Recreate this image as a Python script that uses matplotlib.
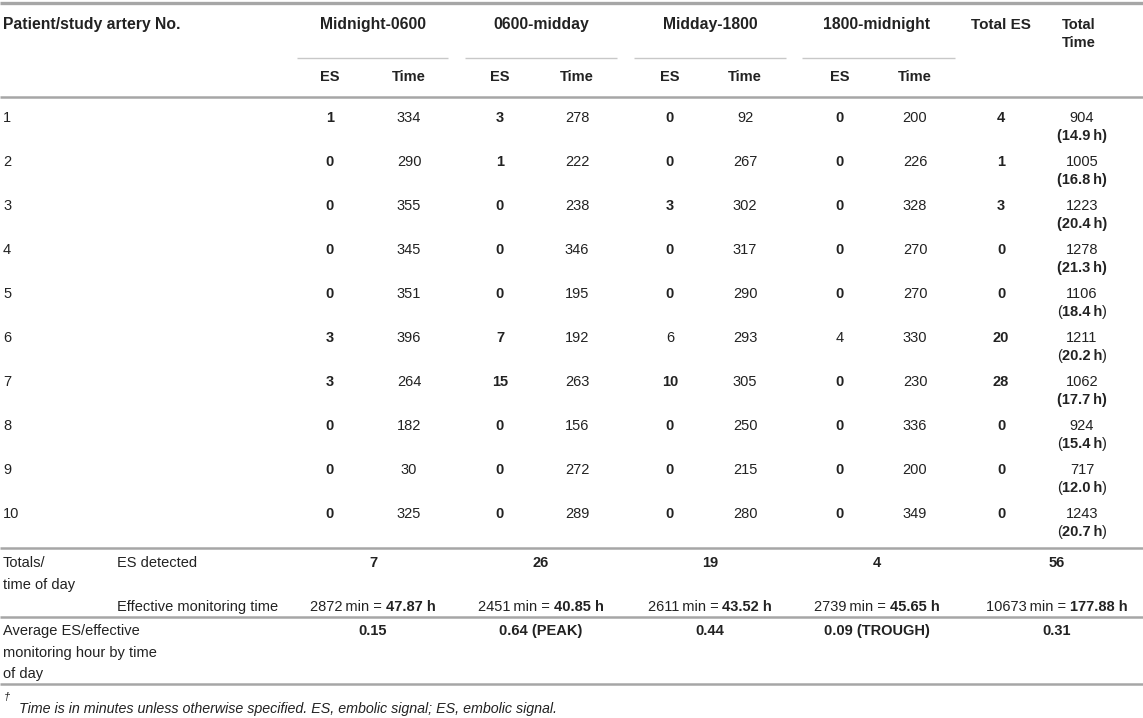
import numpy as np
import matplotlib
matplotlib.use('Agg')
import matplotlib.pyplot as plt

plt.rcParams['font.family'] = ['Liberation Sans', 'DejaVu Sans']

# table data
patients = [str(i) for i in range(1, 11)]
periods = ['Midnight-0600', '0600-midday', 'Midday-1800', '1800-midnight']
es_mid = [1, 0, 0, 0, 0, 3, 3, 0, 0, 0]
time_mid = [334, 290, 355, 345, 351, 396, 264, 182, 30, 325]
es_morn = [3, 1, 0, 0, 0, 7, 15, 0, 0, 0]
time_morn = [278, 222, 238, 346, 195, 192, 263, 156, 272, 289]
es_aft = [0, 0, 3, 0, 0, 6, 10, 0, 0, 0]
time_aft = [92, 267, 302, 317, 290, 293, 305, 250, 215, 280]
es_eve = [0, 0, 0, 0, 0, 4, 0, 0, 0, 0]
time_eve = [200, 226, 328, 270, 270, 330, 230, 336, 200, 349]
total_es = [4, 1, 3, 0, 0, 20, 28, 0, 0, 0]
total_time = [904, 1005, 1223, 1278, 1106, 1211, 1062, 924, 717, 1243]
total_hours = ['14.9', '16.8', '20.4', '21.3', '18.4', '20.2', '17.7', '15.4', '12.0', '20.7']
bold_parens = [True, True, True, True, False, False, True, False, False, False]
# ES cells printed in regular weight (row index, period index)
es_regular = [(5, 2), (5, 3)]

es_detected = [7, 26, 19, 4, 56]
monitor_min = [2872, 2451, 2611, 2739, 10673]
monitor_h = ['47.87', '40.85', '43.52', '45.65', '177.88']
average_es = ['0.15', '0.64 (PEAK)', '0.44', '0.09 (TROUGH)', '0.31']
footnote = 'Time is in minutes unless otherwise specified. ES, embolic signal; ES, embolic signal.'

W, H = 1143, 718
fig = plt.figure(figsize=(W / 100, H / 100), dpi=100)
ax = fig.add_axes([0, 0, 1, 1])
ax.set_xlim(0, W)
ax.set_ylim(H, 0)
ax.axis('off')
renderer = fig.canvas.get_renderer()

FS = 10.5
HFS = 11.3
TXT = '#222222'
LINE = '#a6a6a6'


def put(x, y, s, bold=False, ha='center', italic=False, size=FS):
    return ax.text(x, y, s, ha=ha, va='center', fontsize=size, color=TXT,
                   fontweight='bold' if bold else 'normal',
                   fontstyle='italic' if italic else 'normal')


def width(s, bold=False):
    t = put(0, 0, s, bold=bold)
    w = t.get_window_extent(renderer).width
    t.remove()
    return w


def put_parts(x, y, parts):
    # parts: list of (text, bold, gap_after); centred as a whole at x
    ws = [width(p[0], p[1]) for p in parts]
    total = sum(ws) + sum(p[2] for p in parts)
    cur = x - total / 2
    for p, w in zip(parts, ws):
        put(cur, y, p[0], bold=p[1], ha='left')
        cur += w + p[2]


# column positions
es_x = [330, 500, 670, 840]
tm_x = [409, 577, 745, 915]
grp_x = [373, 541, 710, 877]
grp_span = [(297, 448), (465, 617), (634, 786), (802, 955)]
tes_x, ttm_x = 1001, 1082
span_x = 1057

# header
ax.hlines(3, 0, W, color=LINE, lw=2.4)
put(3, 25, 'Patient/study artery No.', bold=True, ha='left', size=HFS)
for name, gx, (a, b), ex, tx in zip(periods, grp_x, grp_span, es_x, tm_x):
    put(gx, 25, name, bold=True, size=HFS)
    ax.hlines(58, a, b, color='#c8c8c8', lw=1.0)
    put(ex, 77, 'ES', bold=True)
    put(tx, 77, 'Time', bold=True)
put(tes_x, 25, 'Total ES', bold=True, size=HFS - 0.3)
put(1062, 25, 'Total', bold=True, ha='left')
put(1062, 43, 'Time', bold=True, ha='left')
ax.hlines(97, 0, W, color=LINE, lw=1.8)

# patient rows
es_cols = [es_mid, es_morn, es_aft, es_eve]
tm_cols = [time_mid, time_morn, time_aft, time_eve]
for i, p in enumerate(patients):
    y = 118 + 44 * i
    put(3, y, p, ha='left')
    for j in range(4):
        put(es_x[j], y, str(es_cols[j][i]), bold=(i, j) not in es_regular)
        put(tm_x[j], y, str(tm_cols[j][i]))
    put(tes_x, y, str(total_es[i]), bold=True)
    put(ttm_x, y, str(total_time[i]))
    if bold_parens[i]:
        put(ttm_x, y + 18, '(' + total_hours[i] + '\u2009h)', bold=True)
    else:
        put_parts(ttm_x, y + 18, [('(', False, 0), (total_hours[i] + '\u2009h', True, 0), (')', False, 0)])

# totals
ax.hlines(548, 0, W, color=LINE, lw=1.8)
put(3, 563, 'Totals/', ha='left')
put(3, 585, 'time of day', ha='left')
put(117, 563, 'ES detected', ha='left')
put(117, 607, 'Effective monitoring time', ha='left')
tot_x = grp_x + [span_x]
for k, cx in enumerate(tot_x):
    put(cx, 563, str(es_detected[k]), bold=True)
    put_parts(cx, 607, [(str(monitor_min[k]) + '\u2009min =', False, 4),
                        (monitor_h[k] + ' h', True, 0)])
ax.hlines(617, 0, W, color=LINE, lw=1.8)

put(3, 631, 'Average ES/effective', ha='left')
put(3, 653, 'monitoring hour by time', ha='left')
put(3, 674, 'of day', ha='left')
for k, cx in enumerate(tot_x):
    put(cx, 631, average_es[k], bold=True)
ax.hlines(684, 0, W, color=LINE, lw=1.8)

# footnote
put(4, 697, '\u2020', ha='left', italic=True, size=8)
put(19, 709, footnote, ha='left', italic=True, size=10.3)

fig.savefig('out.png', dpi=100)
